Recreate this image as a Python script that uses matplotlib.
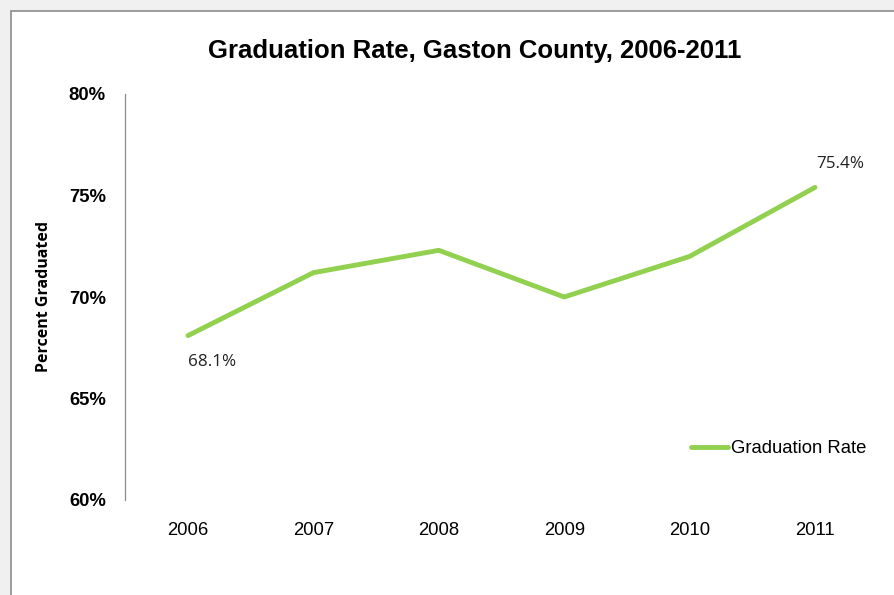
import matplotlib
matplotlib.use("Agg")
import matplotlib.pyplot as plt
from matplotlib.patches import Rectangle
from matplotlib.ticker import FuncFormatter

years = ["2006", "2007", "2008", "2009", "2010", "2011"]
grad_rate = [68.1, 71.2, 72.3, 70.0, 72.0, 75.4]
y_ticks = [60, 65, 70, 75, 80]
title = "Graduation Rate, Gaston County, 2006-2011"
series_name = "Graduation Rate"

W, H = 894, 595
fig = plt.figure(figsize=(W / 100, H / 100), dpi=100)
fig.patch.set_facecolor("#f0f0f0")

# chart area frame drawn on a background axes
bg = fig.add_axes([0, 0, 1, 1], zorder=-1)
bg.set_axis_off()
bg.set_xlim(0, 1)
bg.set_ylim(0, 1)
bg.add_patch(Rectangle((11 / W, -0.02), 1.0, 1 - 11 / H + 0.02,
                       facecolor="white", edgecolor="#8c8c8c", linewidth=1.2))

ax = fig.add_axes([125.3 / W, 1 - 500 / H, (877.7 - 125.3) / W, (500 - 94) / H])
ax.set_facecolor("none")
x = list(range(len(years)))
green = "#92D050"
ax.plot(x, grad_rate, color=green, linewidth=3.5, solid_capstyle="round",
        label=series_name)

ax.set_xlim(-0.5, len(years) - 0.5)
ax.set_ylim(60, 80)
ax.set_yticks(y_ticks)
ax.yaxis.set_major_formatter(FuncFormatter(lambda v, p: f"{v:.0f}%"))
ax.set_xticks(x)
ax.set_xticklabels(years, fontsize=13.3, family="Liberation Sans")
for lbl in ax.get_yticklabels():
    lbl.set_fontfamily("Liberation Sans")
    lbl.set_fontweight("bold")
    lbl.set_fontsize(13.3)
ax.tick_params(axis="y", length=0, pad=14)
ax.tick_params(axis="x", length=0, pad=16)
for s in ["top", "right", "bottom"]:
    ax.spines[s].set_visible(False)
ax.spines["left"].set_color("#8c8c8c")
ax.spines["left"].set_linewidth(0.9)

ax.set_ylabel("Percent Graduated", fontsize=11.5, fontweight="bold",
              family="Open Sans", va="center")
ax.yaxis.set_label_coords((44 - 125.3) / 752.4, 0.5)

# endpoint value labels
ax.annotate(f"{grad_rate[0]:.1f}%", (x[0], grad_rate[0]), xytext=(17, -19),
            textcoords="offset points", ha="center", va="center",
            fontsize=12.3, family="Open Sans", color="#222222")
ax.annotate(f"{grad_rate[-1]:.1f}%", (x[-1], grad_rate[-1]), xytext=(18, 17),
            textcoords="offset points", ha="center", va="center",
            fontsize=12.3, family="Open Sans", color="#222222")

leg = ax.legend(loc="lower right", bbox_to_anchor=(1.0, 0.078), frameon=False,
                prop={"family": "Liberation Sans", "size": 13.3},
                handlelength=2.0, handletextpad=0.2, borderaxespad=0.2)

fig.text(475 / W, 1 - 51 / H, title, ha="center", va="center",
         fontsize=18.5, fontweight="bold", family="Liberation Sans")

fig.savefig("out.png", dpi=100, facecolor=fig.get_facecolor())
